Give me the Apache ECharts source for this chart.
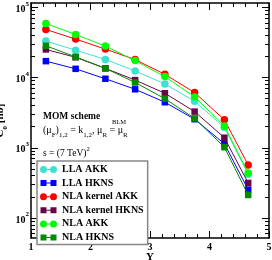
<!DOCTYPE html>
<html><head><meta charset="utf-8">
<script src="https://cdn.jsdelivr.net/npm/echarts@6/dist/echarts.min.js"></script>
<style>html,body{margin:0;padding:0;background:#fff}#c{width:272px;height:260px}</style>
</head><body><div id="c"></div>
<script>
// Rapidity values (x)
const Y = [1.25, 1.75, 2.25, 2.75, 3.25, 3.75, 4.25, 4.65];
// C0 [nb] values per series
const llaAKK        = [33000, 24500, 18100, 12400, 8100, 4600, 1950, 420];
const llaHKNS       = [17100, 13300, 9600, 6800, 4450, 2550, 1140, 254];
const nlaKernelAKK  = [48300, 35200, 25400, 18000, 11100, 6100, 2500, 569];
const nlaKernelHKNS = [25100, 19400, 13500, 9200, 5970, 3270, 1390, 316];
const nlaAKK        = [58700, 41000, 28000, 17400, 10300, 5300, 2050, 438];
const nlaHKNS       = [28300, 19700, 13500, 8500, 5000, 2620, 1020, 213];
const seriesNames = ['LLA AKK', 'LLA HKNS', 'NLA kernel AKK', 'NLA kernel HKNS', 'NLA AKK', 'NLA HKNS'];
// y tick labels: powers of ten
const yMajorExp = [2, 3, 4, 5];
const yMinorVals = [60, 70, 80, 90, 200, 300, 400, 500, 600, 700, 800, 900,
  2000, 3000, 4000, 5000, 6000, 7000, 8000, 9000,
  20000, 30000, 40000, 50000, 60000, 70000, 80000, 90000];
const xTicks = [1, 2, 3, 4, 5];
const yMin = 52, yMax = 115000;

const L = v => Math.log10(v);
const SERIF = '"Liberation Serif", "DejaVu Serif", serif';
const colors = ['#40E0D0', '#0000FF', '#FF0000', '#670748', '#00FF00', '#008B00'];
const isCircle = [true, false, true, false, true, false];
const allData = [llaAKK, llaHKNS, nlaKernelAKK, nlaKernelHKNS, nlaAKK, nlaHKNS];

const circleIcon = 'path://M0,3.5A3.5,3.5,0,1,0,7,3.5A3.5,3.5,0,1,0,0,3.5Z M7,3L10,3L10,4L7,4Z M10,3.5A3.5,3.5,0,1,0,17,3.5A3.5,3.5,0,1,0,10,3.5Z';
const squareIcon = 'path://M0.5,0.5L6.5,0.5L6.5,6.5L0.5,6.5Z M6.5,3L10.5,3L10.5,4L6.5,4Z M10.5,0.5L16.5,0.5L16.5,6.5L10.5,6.5Z M0,3.5L0,3.5Z M17,3.5L17,3.5Z M8,0L8,0Z M8,7L8,7Z';

function yAx(pos, ticks, len, withLabel, withLine, extra) {
  const a = {
    type: 'value', position: pos, min: L(yMin), max: L(yMax),
    axisLine: { show: withLine, lineStyle: { color: '#000', width: 1.5 } },
    axisTick: { show: true, inside: true, length: len, customValues: ticks, lineStyle: { color: '#000', width: 1 } },
    axisLabel: withLabel ? {
      show: true, customValues: ticks, margin: 2,
      formatter: v => '{b|10}{e|' + Math.round(v) + '}',
      rich: {
        b: { fontFamily: SERIF, fontWeight: 'bold', fontSize: 10, lineHeight: 14, verticalAlign: 'bottom', color: '#000' },
        e: { fontFamily: SERIF, fontWeight: 'bold', fontSize: 7, lineHeight: 8, verticalAlign: 'top', color: '#000' }
      }
    } : { show: false },
    splitLine: { show: false }
  };
  return Object.assign(a, extra || {});
}

const majorL = yMajorExp.slice();
const minorL = yMinorVals.map(L);

function xAx(pos, withLabel) {
  return {
    type: 'value', position: pos, min: 1, max: 5, interval: 1,
    axisLine: { show: true, onZero: false, lineStyle: { color: '#000', width: 1.5 } },
    axisTick: { show: true, inside: true, length: 7, lineStyle: { color: '#000', width: 1 } },
    minorTick: { show: true, splitNumber: 5, length: 4, lineStyle: { color: '#000', width: 1 } },
    axisLabel: withLabel ? { show: true, margin: 4, fontFamily: SERIF, fontWeight: 'bold', fontSize: 10, color: '#000' } : { show: false },
    splitLine: { show: false },
    name: withLabel ? 'Y' : '', nameLocation: 'middle', nameGap: 14, nameMoveOverlap: false,
    nameTextStyle: { fontFamily: SERIF, fontWeight: 'bold', fontSize: 11, color: '#000' }
  };
}

const series = seriesNames.map((n, i) => ({
  name: n, type: 'line', xAxisIndex: 0, yAxisIndex: 0,
  data: Y.map((x, j) => [x, L(allData[i][j])]),
  symbol: isCircle[i] ? 'circle' : 'rect',
  symbolSize: isCircle[i] ? 7.5 : 6.5,
  lineStyle: { color: colors[i], width: 1 },
  itemStyle: { color: colors[i] },
  silent: true, animation: false, z: 2 + i
}));

const option = {
  animation: false,
  grid: { left: 31, right: 3, top: 3, bottom: 22, containLabel: false, outerBoundsMode: 'none' },
  xAxis: [xAx('bottom', true), xAx('top', false)],
  yAxis: [
    yAx('left', majorL, 7, true, true, {
      name: '{a|C}{s|0}{a| [nb]}', nameLocation: 'middle', nameGap: 22, nameRotate: 90, nameMoveOverlap: false,
      nameTextStyle: { rich: {
        a: { fontFamily: SERIF, fontWeight: 'bold', fontSize: 11, lineHeight: 14, verticalAlign: 'top', color: '#000' },
        s: { fontFamily: SERIF, fontWeight: 'bold', fontSize: 7, lineHeight: 7, verticalAlign: 'bottom', color: '#000' }
      } }
    }),
    yAx('left', minorL, 4, false, false),
    yAx('right', majorL, 7, false, true),
    yAx('right', minorL, 4, false, false)
  ],
  legend: {
    orient: 'vertical', left: 37, top: 161, itemWidth: 17, itemHeight: 7, itemGap: 3.6,
    padding: [3.5, 4, 2, 3], backgroundColor: '#fff', borderColor: '#888', borderWidth: 1.5, borderRadius: 0,
    selectedMode: false, symbolKeepAspect: false,
    textStyle: { fontFamily: SERIF, fontWeight: 'bold', fontSize: 10, color: '#000' },
    data: seriesNames.map((n, i) => ({ name: n, icon: isCircle[i] ? circleIcon : squareIcon }))
  },
  graphic: [
    { type: 'text', x: 43, y: 116.5, silent: true,
      style: { text: 'MOM scheme', font: 'bold 9.5px ' + SERIF, fill: '#000', verticalAlign: 'middle' } },
    { type: 'text', x: 43, y: 131.7, silent: true,
      style: {
        text: '{n|(μ}{s|F}{n|)}{s|1,2}{n| = k}{s|1,2}{n|, μ}{s|R}{n| = μ}{s|R}',
        verticalAlign: 'middle',
        rich: {
          n: { fontFamily: SERIF, fontSize: 10, lineHeight: 13, verticalAlign: 'top', fill: '#000', color: '#000' },
          s: { fontFamily: SERIF, fontSize: 7, lineHeight: 6, verticalAlign: 'bottom', fill: '#000', color: '#000' }
        }
      } },
    { type: 'text', x: 112, y: 122, silent: true,
      style: { text: 'BLM', font: '6.5px ' + SERIF, fill: '#000', verticalAlign: 'middle' } },
    { type: 'text', x: 43, y: 152, silent: true,
      style: {
        text: '{n|s = (7 TeV)}{p|2}',
        verticalAlign: 'middle',
        rich: {
          n: { fontFamily: SERIF, fontSize: 9.5, lineHeight: 13, verticalAlign: 'bottom', fill: '#000', color: '#000' },
          p: { fontFamily: SERIF, fontSize: 6.5, lineHeight: 5, verticalAlign: 'top', fill: '#000', color: '#000' }
        }
      } }
  ],
  series: series
};

const chart = echarts.init(document.getElementById('c'), null, { renderer: 'canvas' });
chart.setOption(option);
</script>
</body></html>
